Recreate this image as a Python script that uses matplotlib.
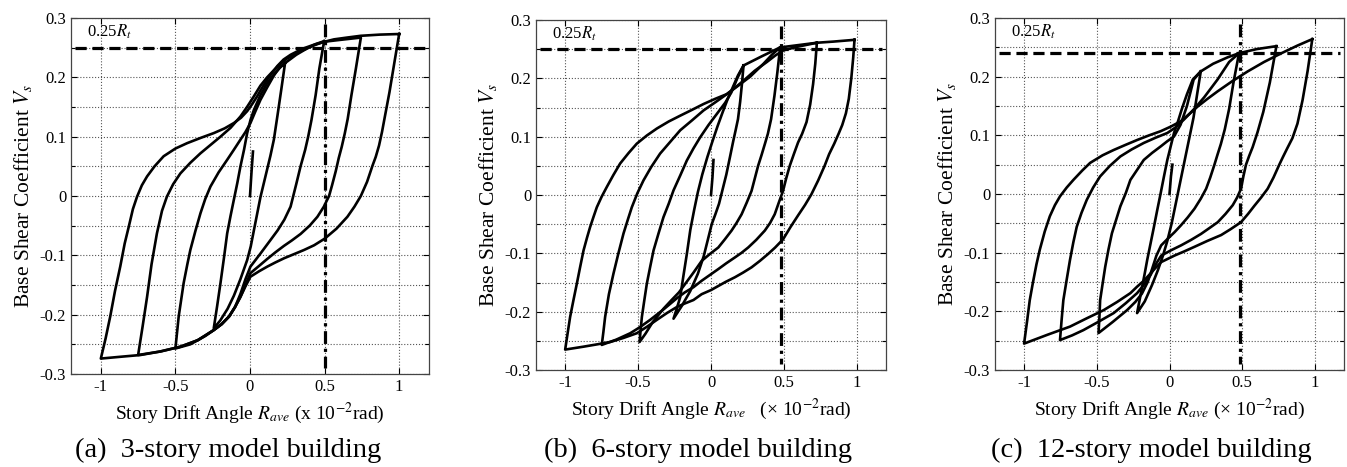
import matplotlib
matplotlib.use("Agg")
import matplotlib.pyplot as plt
from matplotlib.ticker import MultipleLocator, FuncFormatter

plt.rcParams['font.family'] = 'serif'
plt.rcParams['font.serif'] = ['Liberation Serif', 'DejaVu Serif']
plt.rcParams['mathtext.fontset'] = 'stix'
plt.rcParams['axes.unicode_minus'] = False

# ---- data: (drift angle x1e-2 rad, base shear coefficient) ----
# each loop: unloading from the positive peak, then reloading back to it

# (a) 3-story
a_init = [(0, 0), (0.01, 0.04), (0.02, 0.075)]
a_r025 = [(0.235, 0.224), (0.21, 0.18), (0.185, 0.137), (0.16, 0.095), (0.137, 0.068), (0.115, 0.045),
          (0.093, 0.022), (0.07, -0.002), (0.048, -0.03), (0.026, -0.058), (0.005, -0.085), (-0.019, -0.108),
          (-0.064, -0.14), (-0.108, -0.168), (-0.15, -0.19), (-0.2, -0.21), (-0.243, -0.223),
          (-0.22, -0.185), (-0.198, -0.147), (-0.175, -0.105), (-0.153, -0.063), (-0.13, -0.033), (-0.108, -0.006),
          (-0.085, 0.022), (-0.064, 0.05), (-0.04, 0.078), (-0.019, 0.106), (0.003, 0.128), (0.026, 0.145),
          (0.07, 0.17), (0.115, 0.19), (0.16, 0.205), (0.2, 0.216), (0.235, 0.224)]
a_r050 = [(0.497, 0.261), (0.465, 0.215), (0.44, 0.17), (0.412, 0.128), (0.39, 0.1), (0.37, 0.078),
          (0.339, 0.05), (0.31, 0.02), (0.272, -0.018), (0.23, -0.04), (0.185, -0.058), (0.138, -0.074),
          (0.07, -0.097), (0.003, -0.119), (-0.03, -0.14), (-0.064, -0.165), (-0.1, -0.187), (-0.14, -0.203),
          (-0.19, -0.216), (-0.243, -0.226), (-0.3, -0.236), (-0.4, -0.25), (-0.5, -0.257),
          (-0.478, -0.203), (-0.445, -0.147), (-0.42, -0.115), (-0.4, -0.091), (-0.365, -0.058), (-0.332, -0.029),
          (-0.3, -0.005), (-0.265, 0.016), (-0.21, 0.04), (-0.153, 0.061), (-0.108, 0.078), (-0.064, 0.095),
          (-0.03, 0.108), (0.003, 0.123), (0.035, 0.142), (0.07, 0.162), (0.115, 0.183), (0.16, 0.203),
          (0.2, 0.217), (0.235, 0.224), (0.31, 0.238), (0.384, 0.249), (0.44, 0.256), (0.497, 0.261)]
a_r075 = [(0.742, 0.265), (0.71, 0.215), (0.68, 0.17), (0.655, 0.13), (0.635, 0.105), (0.615, 0.083),
          (0.595, 0.064), (0.575, 0.042), (0.55, 0.018), (0.53, 0.0), (0.495, -0.018), (0.452, -0.035),
          (0.4, -0.05), (0.339, -0.064), (0.28, -0.075), (0.228, -0.084), (0.17, -0.095), (0.116, -0.106),
          (0.06, -0.118), (0.003, -0.13), (-0.03, -0.15), (-0.064, -0.17), (-0.1, -0.187), (-0.14, -0.203),
          (-0.19, -0.216), (-0.243, -0.226), (-0.35, -0.243), (-0.467, -0.254), (-0.6, -0.262), (-0.75, -0.268),
          (-0.72, -0.22), (-0.69, -0.17), (-0.66, -0.115), (-0.624, -0.063), (-0.59, -0.025), (-0.557, -0.001),
          (-0.515, 0.02), (-0.467, 0.038), (-0.4, 0.056), (-0.332, 0.072), (-0.265, 0.086), (-0.198, 0.1),
          (-0.13, 0.115), (-0.064, 0.134), (-0.02, 0.15), (0.026, 0.168), (0.07, 0.186), (0.115, 0.2),
          (0.16, 0.212), (0.2, 0.222), (0.25, 0.232), (0.33, 0.243), (0.43, 0.254), (0.497, 0.26),
          (0.6, 0.263), (0.742, 0.267)]
a_r100 = [(1.0, 0.273), (0.968, 0.225), (0.935, 0.175), (0.905, 0.135), (0.885, 0.108), (0.865, 0.085),
          (0.843, 0.066), (0.821, 0.051), (0.785, 0.024), (0.743, 0.0), (0.7, -0.018), (0.653, -0.035),
          (0.58, -0.055), (0.5, -0.072), (0.43, -0.083), (0.362, -0.091), (0.295, -0.098), (0.228, -0.105),
          (0.17, -0.112), (0.116, -0.119), (0.06, -0.127), (0.003, -0.136), (-0.03, -0.152), (-0.064, -0.17),
          (-0.1, -0.187), (-0.14, -0.203), (-0.19, -0.216), (-0.243, -0.226), (-0.35, -0.243), (-0.467, -0.254),
          (-0.6, -0.262), (-0.735, -0.268), (-0.87, -0.271), (-1.0, -0.274),
          (-0.968, -0.24), (-0.937, -0.203), (-0.905, -0.16), (-0.87, -0.119), (-0.84, -0.08), (-0.813, -0.052),
          (-0.785, -0.022), (-0.757, -0.001), (-0.725, 0.018), (-0.69, 0.033), (-0.64, 0.05), (-0.579, 0.067),
          (-0.5, 0.08), (-0.422, 0.089), (-0.33, 0.098), (-0.243, 0.106), (-0.17, 0.114), (-0.108, 0.123),
          (-0.06, 0.132), (-0.019, 0.143), (0.015, 0.155), (0.048, 0.168), (0.08, 0.182), (0.115, 0.196),
          (0.15, 0.208), (0.183, 0.219), (0.225, 0.23), (0.272, 0.238), (0.35, 0.248), (0.429, 0.255),
          (0.5, 0.26), (0.563, 0.264), (0.65, 0.267), (0.742, 0.27), (0.87, 0.272), (1.0, 0.273)]

# (b) 6-story
b_init = [(0, 0), (0.01, 0.03), (0.017, 0.06)]
b_r025 = [(0.223, 0.222), (0.212, 0.19), (0.2, 0.16), (0.185, 0.13), (0.168, 0.11), (0.153, 0.093),
          (0.13, 0.065), (0.105, 0.035), (0.08, 0.01), (0.055, -0.015), (0.03, -0.033), (0.005, -0.05),
          (-0.02, -0.075), (-0.05, -0.105), (-0.09, -0.135), (-0.143, -0.165), (-0.2, -0.19), (-0.257, -0.212),
          (-0.235, -0.195), (-0.211, -0.175), (-0.19, -0.14), (-0.165, -0.1), (-0.142, -0.06), (-0.115, -0.025),
          (-0.09, 0.005), (-0.06, 0.035), (-0.025, 0.065), (0.01, 0.092), (0.045, 0.118), (0.08, 0.142),
          (0.115, 0.165), (0.15, 0.185), (0.185, 0.205), (0.223, 0.222)]
b_r050 = [(0.474, 0.253), (0.455, 0.21), (0.435, 0.17), (0.412, 0.13), (0.39, 0.105), (0.37, 0.088),
          (0.346, 0.068), (0.323, 0.05), (0.3, 0.028), (0.278, 0.007), (0.245, -0.013), (0.21, -0.033),
          (0.175, -0.048), (0.141, -0.061), (0.095, -0.076), (0.05, -0.09), (-0.007, -0.101), (-0.064, -0.113),
          (-0.12, -0.133), (-0.17, -0.15), (-0.22, -0.167), (-0.27, -0.18), (-0.326, -0.195), (-0.4, -0.218),
          (-0.45, -0.238), (-0.49, -0.252),
          (-0.482, -0.23), (-0.474, -0.209), (-0.457, -0.18), (-0.44, -0.152), (-0.417, -0.123), (-0.394, -0.095),
          (-0.36, -0.066), (-0.326, -0.038), (-0.29, -0.015), (-0.257, 0.008), (-0.21, 0.034), (-0.166, 0.059),
          (-0.12, 0.08), (-0.074, 0.099), (-0.017, 0.12), (0.04, 0.139), (0.097, 0.158), (0.14, 0.176),
          (0.18, 0.2), (0.223, 0.222), (0.35, 0.238), (0.474, 0.253)]
b_r075 = [(0.726, 0.261), (0.715, 0.225), (0.7, 0.19), (0.68, 0.155), (0.655, 0.125), (0.625, 0.105),
          (0.597, 0.09), (0.568, 0.07), (0.54, 0.05), (0.515, 0.028), (0.494, 0.007), (0.465, -0.013),
          (0.437, -0.033), (0.405, -0.048), (0.369, -0.061), (0.31, -0.077), (0.255, -0.09), (0.21, -0.099),
          (0.164, -0.107), (0.105, -0.117), (0.05, -0.127), (-0.007, -0.137), (-0.064, -0.147), (-0.12, -0.158),
          (-0.18, -0.167), (-0.234, -0.177), (-0.32, -0.195), (-0.417, -0.214), (-0.49, -0.227), (-0.554, -0.237),
          (-0.65, -0.248), (-0.749, -0.257),
          (-0.738, -0.235), (-0.726, -0.209), (-0.7, -0.17), (-0.669, -0.135), (-0.635, -0.1), (-0.6, -0.066),
          (-0.57, -0.042), (-0.543, -0.021), (-0.505, 0.003), (-0.463, 0.025), (-0.41, 0.048), (-0.349, 0.071),
          (-0.28, 0.091), (-0.211, 0.111), (-0.13, 0.128), (-0.051, 0.145), (0.03, 0.159), (0.109, 0.173),
          (0.19, 0.188), (0.269, 0.203), (0.36, 0.225), (0.42, 0.241), (0.474, 0.253), (0.6, 0.257),
          (0.726, 0.261)]
b_r100 = [(0.984, 0.266), (0.975, 0.235), (0.962, 0.2), (0.945, 0.165), (0.925, 0.14), (0.9, 0.12),
          (0.875, 0.105), (0.845, 0.088), (0.81, 0.07), (0.779, 0.05), (0.735, 0.025), (0.688, 0.001),
          (0.645, -0.017), (0.597, -0.035), (0.545, -0.055), (0.494, -0.076), (0.44, -0.09), (0.392, -0.101),
          (0.335, -0.113), (0.278, -0.124), (0.22, -0.133), (0.164, -0.141), (0.1, -0.149), (0.05, -0.156),
          (0.0, -0.163), (-0.064, -0.17), (-0.12, -0.18), (-0.18, -0.186), (-0.234, -0.192), (-0.3, -0.202),
          (-0.371, -0.214), (-0.44, -0.226), (-0.509, -0.237), (-0.6, -0.245), (-0.691, -0.252), (-0.78, -0.256),
          (-0.874, -0.26), (-1.0, -0.265),
          (-0.985, -0.24), (-0.966, -0.209), (-0.943, -0.18), (-0.92, -0.152), (-0.897, -0.123), (-0.874, -0.095),
          (-0.85, -0.073), (-0.829, -0.055), (-0.805, -0.037), (-0.783, -0.021), (-0.75, -0.003), (-0.714, 0.014),
          (-0.67, 0.034), (-0.623, 0.054), (-0.565, 0.072), (-0.509, 0.088), (-0.44, 0.102), (-0.371, 0.114),
          (-0.29, 0.126), (-0.211, 0.136), (-0.13, 0.146), (-0.051, 0.156), (0.03, 0.165), (0.109, 0.173),
          (0.17, 0.185), (0.223, 0.196), (0.3, 0.213), (0.383, 0.228), (0.44, 0.239), (0.497, 0.248),
          (0.59, 0.254), (0.726, 0.261), (0.84, 0.263), (0.984, 0.266)]

# (c) 12-story
c_init = [(0, 0), (0.01, 0.03), (0.02, 0.05)]
c_r025 = [(0.215, 0.209), (0.19, 0.17), (0.165, 0.13), (0.14, 0.1), (0.115, 0.07), (0.09, 0.04),
          (0.065, 0.01), (0.04, -0.02), (0.015, -0.05), (-0.015, -0.08), (-0.045, -0.105), (-0.08, -0.13),
          (-0.12, -0.155), (-0.17, -0.183), (-0.223, -0.203),
          (-0.205, -0.18), (-0.188, -0.158), (-0.17, -0.135), (-0.153, -0.112), (-0.13, -0.084), (-0.107, -0.056),
          (-0.084, -0.027), (-0.061, 0.001), (-0.038, 0.03), (-0.015, 0.058), (0.008, 0.081), (0.031, 0.104),
          (0.06, 0.125), (0.085, 0.145), (0.12, 0.17), (0.16, 0.195), (0.215, 0.209)]
c_r050 = [(0.478, 0.24), (0.44, 0.19), (0.41, 0.145), (0.38, 0.11), (0.353, 0.085), (0.33, 0.067),
          (0.309, 0.05), (0.28, 0.028), (0.252, 0.009), (0.215, -0.008), (0.172, -0.025), (0.125, -0.04),
          (0.08, -0.053), (0.035, -0.065), (-0.011, -0.076), (-0.057, -0.0875), (-0.09, -0.105), (-0.12, -0.128),
          (-0.15, -0.15), (-0.19, -0.17), (-0.235, -0.184), (-0.292, -0.198), (-0.39, -0.218), (-0.488, -0.237),
          (-0.482, -0.21), (-0.477, -0.181), (-0.46, -0.153), (-0.442, -0.124), (-0.42, -0.095), (-0.396, -0.067),
          (-0.367, -0.044), (-0.338, -0.021), (-0.3, 0.002), (-0.269, 0.024), (-0.223, 0.041), (-0.177, 0.058),
          (-0.12, 0.07), (-0.061, 0.081), (-0.015, 0.09), (0.031, 0.098), (0.076, 0.118), (0.12, 0.15),
          (0.166, 0.195), (0.215, 0.209), (0.3, 0.222), (0.4, 0.233), (0.478, 0.24)]
c_r075 = [(0.735, 0.252), (0.69, 0.19), (0.645, 0.14), (0.605, 0.105), (0.572, 0.08), (0.548, 0.065),
          (0.526, 0.05), (0.508, 0.03), (0.492, 0.009), (0.465, -0.006), (0.435, -0.019), (0.385, -0.034),
          (0.332, -0.048), (0.275, -0.058), (0.217, -0.068), (0.15, -0.078), (0.08, -0.0875), (0.01, -0.096),
          (-0.057, -0.105), (-0.095, -0.12), (-0.13, -0.138), (-0.177, -0.155), (-0.223, -0.169), (-0.3, -0.186),
          (-0.384, -0.203), (-0.49, -0.218), (-0.592, -0.232), (-0.67, -0.241), (-0.753, -0.249),
          (-0.742, -0.215), (-0.73, -0.181), (-0.707, -0.146), (-0.684, -0.112), (-0.661, -0.082), (-0.638, -0.056),
          (-0.605, -0.032), (-0.569, -0.01), (-0.525, 0.011), (-0.477, 0.03), (-0.41, 0.048), (-0.338, 0.064),
          (-0.26, 0.076), (-0.177, 0.087), (-0.095, 0.096), (-0.015, 0.104), (0.045, 0.114), (0.1, 0.127),
          (0.17, 0.145), (0.239, 0.165), (0.33, 0.195), (0.41, 0.225), (0.478, 0.24), (0.6, 0.247),
          (0.735, 0.252)]
c_r100 = [(0.982, 0.264), (0.95, 0.21), (0.915, 0.16), (0.88, 0.12), (0.845, 0.095), (0.81, 0.078),
          (0.78, 0.063), (0.755, 0.05), (0.715, 0.028), (0.675, 0.009), (0.63, -0.006), (0.584, -0.02),
          (0.54, -0.034), (0.492, -0.048), (0.42, -0.06), (0.355, -0.07), (0.26, -0.08), (0.172, -0.09),
          (0.1, -0.098), (0.034, -0.105), (-0.057, -0.116), (-0.1, -0.127), (-0.14, -0.138), (-0.177, -0.148),
          (-0.223, -0.158), (-0.269, -0.169), (-0.36, -0.184), (-0.453, -0.198), (-0.57, -0.212), (-0.684, -0.226),
          (-0.84, -0.24), (-1.0, -0.255),
          (-0.98, -0.218), (-0.961, -0.181), (-0.94, -0.152), (-0.915, -0.12), (-0.892, -0.095), (-0.858, -0.064),
          (-0.823, -0.038), (-0.788, -0.019), (-0.753, -0.004), (-0.707, 0.011), (-0.661, 0.024), (-0.6, 0.04),
          (-0.546, 0.053), (-0.46, 0.066), (-0.384, 0.075), (-0.3, 0.084), (-0.223, 0.092), (-0.14, 0.1),
          (-0.061, 0.107), (0.01, 0.115), (0.077, 0.124), (0.135, 0.136), (0.193, 0.149), (0.26, 0.162),
          (0.331, 0.175), (0.43, 0.192), (0.538, 0.209), (0.65, 0.225), (0.77, 0.24), (0.88, 0.253),
          (0.982, 0.264)]

# reference levels drawn on each panel
shear_level = [0.25, 0.25, 0.24]
drift_level = [0.5, 0.481, 0.488]

captions = ["(a)  3-story model building", "(b)  6-story model building", "(c)  12-story model building"]
xlabels = ["Story Drift Angle $R_{ave}$ (x 10$^{-2}$rad)",
           "Story Drift Angle $R_{ave}$   (× 10$^{-2}$rad)",
           "Story Drift Angle $R_{ave}$ (× 10$^{-2}$rad)"]

# axes boxes in figure pixels (left, top, right, bottom)
boxes = [(71, 18, 429, 374), (536, 20, 886, 370), (995, 18, 1344, 370)]
caption_x = [228, 698, 1151]

W, H = 1347, 467


def fmt(v, pos):
    v = round(v, 3)
    if v == 0:
        return "0"
    return "%g" % v


def draw_panel(ax, loops, h, v, xlabel):
    for lp in loops:
        xs = [p[0] for p in lp]
        ys = [p[1] for p in lp]
        ax.plot(xs, ys, color="black", linewidth=1.9, solid_joinstyle="round")

    ax.plot([-1.17, 1.17], [h, h], color="black", linewidth=2.3, dashes=(3.5, 1.8))
    ax.plot([v, v], [0.29, -0.29], color="black", linewidth=2.3, dashes=(4, 1.5, 1, 1.5))
    ax.text(-1.09, 0.277, "0.25$R_t$", fontsize=12, va="center", ha="left")

    ax.set_xlim(-1.2, 1.2)
    ax.set_ylim(-0.3, 0.3)
    ax.set_xticks([-1, -0.5, 0, 0.5, 1])
    ax.yaxis.set_major_locator(MultipleLocator(0.1))
    ax.yaxis.set_minor_locator(MultipleLocator(0.05))
    ax.xaxis.set_major_formatter(FuncFormatter(fmt))
    ax.yaxis.set_major_formatter(FuncFormatter(fmt))
    ax.tick_params(which="both", direction="in", top=True, right=True, labelsize=12, length=4, width=0.8)
    ax.tick_params(which="minor", length=3)
    ax.grid(True, which="major", linestyle=":", color="#555555", linewidth=0.8)
    ax.grid(True, which="minor", axis="y", linestyle=":", color="#555555", linewidth=0.8)
    for s in ax.spines.values():
        s.set_linewidth(0.9)
        s.set_color("#444444")

    ax.set_xlabel(xlabel, fontsize=14, labelpad=4)
    ax.set_ylabel("Base Shear Coefficient $V_s$", fontsize=15.5, labelpad=4)


panels = [
    [a_init, a_r025, a_r050, a_r075, a_r100],
    [b_init, b_r025, b_r050, b_r075, b_r100],
    [c_init, c_r025, c_r050, c_r075, c_r100],
]

fig = plt.figure(figsize=(W / 100, H / 100), dpi=100, facecolor="white")

for i in range(3):
    l, t, r, b = boxes[i]
    ax = fig.add_axes([l / W, 1 - b / H, (r - l) / W, (b - t) / H])
    draw_panel(ax, panels[i], shear_level[i], drift_level[i], xlabels[i])
    fig.text(caption_x[i] / W, 1 - 450 / H, captions[i], fontsize=20.5, ha="center", va="center")

fig.savefig("out.png", dpi=100)
